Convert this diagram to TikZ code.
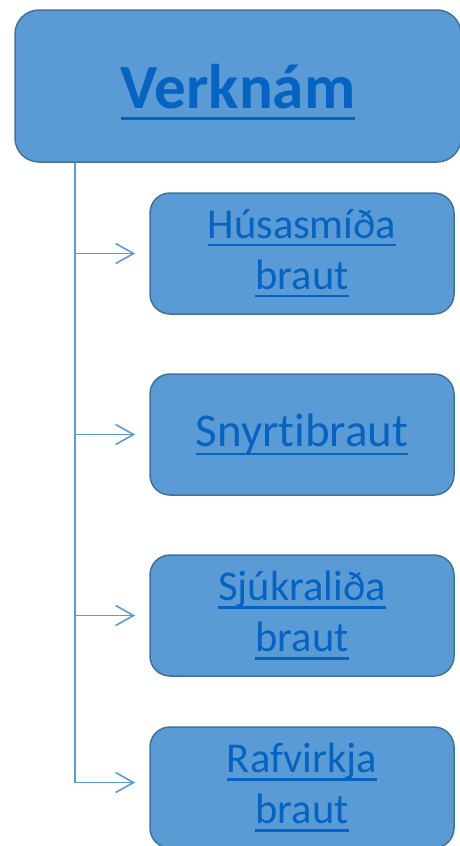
\documentclass[tikz,border=0pt]{standalone}
\usepackage{fontspec}
\setmainfont{Carlito}[Ligatures=NoCommon]
\usetikzlibrary{arrows.meta,positioning}
\definecolor{boxfill}{HTML}{5B9BD5}
\definecolor{boxline}{HTML}{41719C}
\definecolor{linktext}{HTML}{0563C1}
\newcommand\lnk[1]{\leavevmode\setbox0\hbox{#1}\rlap{\vrule width\wd0 height -0.13em depth 0.18em}\box0}

\begin{document}
\begin{tikzpicture}[node distance=181pt,>={Straight Barb[length=18pt,width=20pt]},auto]

	\tikzstyle{topbox}=[rectangle,rounded corners=24pt,draw=boxline,line width=1.5pt,fill=boxfill,minimum width=446pt,minimum height=152pt,text height=56pt,text=linktext,font=\fontsize{63}{76}\selectfont\bfseries]
	\tikzstyle{track}=[rectangle,rounded corners=20pt,draw=boxline,line width=1.5pt,fill=boxfill,minimum width=304pt,minimum height=121pt,text=linktext,align=center,font=\fontsize{42.5}{51}\selectfont]
	\tikzstyle{branch}=[->,draw=boxfill,line width=1.6pt,shorten >=14pt]

	\useasboundingbox (0,0) rectangle (459pt,-846pt);

	\node [topbox] (verk) at (238pt,-86pt) {\lnk{Verknám}};

	\node [track] (hus) at (302pt,-253.5pt) {\lnk{Húsasmíða}\\\lnk{braut}};
	\node [track,font=\fontsize{47}{56}\selectfont] (sny) [below of=hus] {\lnk{Snyrtibraut}};
	\node [track] (sjuk) [below of=sny] {\lnk{Sjúkraliða}\\\lnk{braut}};
	\node [track] (raf) [below of=sjuk,node distance=172pt] {\lnk{Rafvirkja}\\\lnk{braut}};

	\coordinate (spine) at (75pt,-162pt);
	\coordinate (rafin) at ([yshift=5pt]raf.west);

	\draw [branch] (verk.south -| spine) |- (rafin);
	\draw [branch] (hus.west -| spine) -- (hus.west);
	\draw [branch] (sny.west -| spine) -- (sny.west);
	\draw [branch] (sjuk.west -| spine) -- (sjuk.west);
\end{tikzpicture}
\end{document}
